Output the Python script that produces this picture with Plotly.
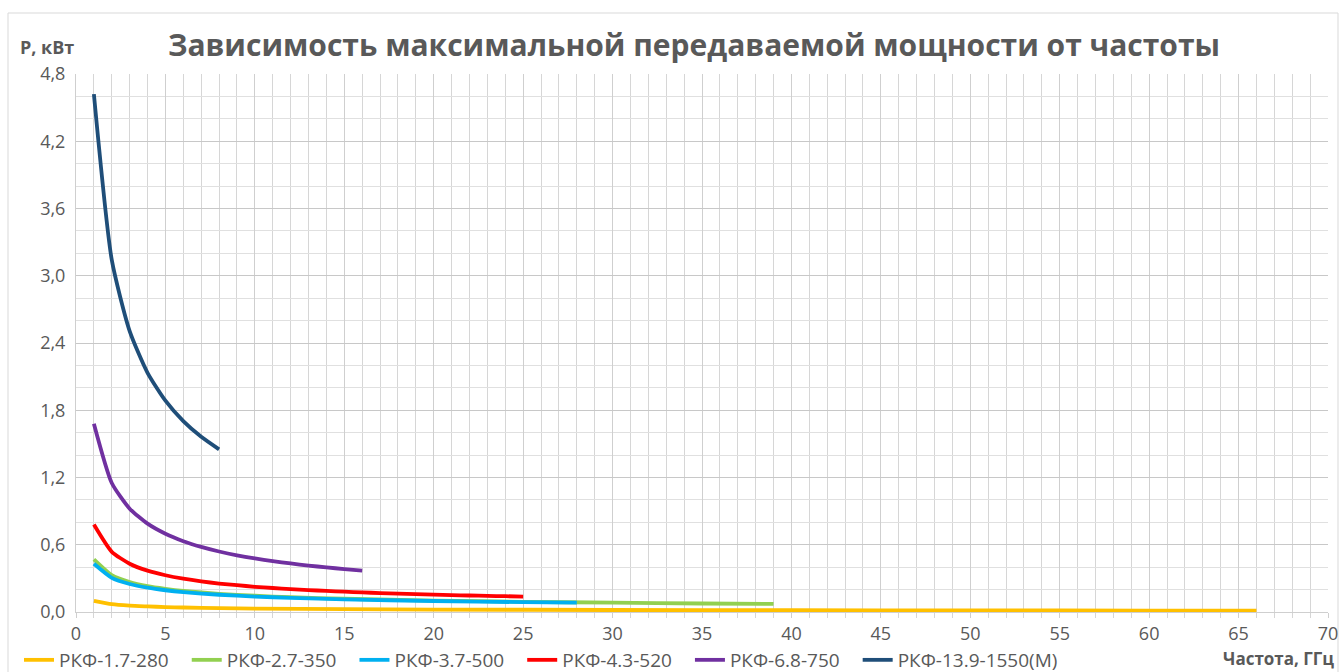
import plotly.graph_objects as go

# ---- data ----
names = ["РКФ-1.7-280", "РКФ-2.7-350", "РКФ-3.7-500", "РКФ-4.3-520", "РКФ-6.8-750", "РКФ-13.9-1550(М)"]
colors = ["#FFC000", "#92D050", "#00B0F0", "#FF0000", "#7030A0", "#1F4E79"]

f_y = [1, 2, 3, 4, 5, 6, 8, 10, 15, 20, 30, 40, 50, 60, 66]
p_y = [0.100, 0.070, 0.057, 0.050, 0.044, 0.040, 0.035, 0.031, 0.025, 0.022, 0.018, 0.0155, 0.014, 0.0126, 0.012]

f_g = [1, 2, 3, 4, 5, 6, 8, 10, 12, 15, 20, 25, 30, 35, 39]
p_g = [0.470, 0.330, 0.268, 0.231, 0.207, 0.188, 0.162, 0.145, 0.132, 0.118, 0.102, 0.091, 0.083, 0.076, 0.072]

f_c = [1, 2, 3, 4, 5, 6, 8, 10, 12, 15, 20, 25, 28]
p_c = [0.430, 0.305, 0.250, 0.217, 0.194, 0.177, 0.154, 0.138, 0.126, 0.113, 0.098, 0.088, 0.083]

f_r = list(range(1, 26))
p_r = [0.780, 0.537, 0.431, 0.369, 0.328, 0.297, 0.273, 0.254, 0.239, 0.225, 0.214, 0.204, 0.196,
       0.188, 0.181, 0.175, 0.169, 0.164, 0.160, 0.155, 0.151, 0.147, 0.144, 0.141, 0.138]

f_p = list(range(1, 17))
p_p = [1.680, 1.151, 0.922, 0.788, 0.698, 0.632, 0.581, 0.540, 0.506, 0.478, 0.454, 0.433, 0.414,
       0.398, 0.383, 0.370]

f_n = [1, 2, 3, 4, 5, 6, 7, 8]
p_n = [4.620, 3.141, 2.506, 2.134, 1.885, 1.703, 1.563, 1.451]

xs = [f_y, f_g, f_c, f_r, f_p, f_n]
ys = [p_y, p_g, p_c, p_r, p_p, p_n]

title = "Зависимость максимальной передаваемой мощности от частоты"
y_title = "P, кВт"
x_title = "Частота, ГГц"

FONT = "Open Sans"
TXT = "#595959"
PAD = "\u00a0\u00a0\u2009"  # spacing between legend entries

fig = go.Figure()
for n, c, x, y in zip(names, colors, xs, ys):
    fig.add_trace(go.Scatter(x=x, y=y, name=n + PAD, mode="lines",
                             line=dict(color=c, width=3.8, shape="spline", smoothing=0.6)))

W, H = 1339, 672
L, R, T, B = 76, 11, 74, 60
pw = W - L - R
ph = H - T - B

fig.update_layout(
    width=W, height=H,
    margin=dict(l=L, r=R, t=T, b=B, autoexpand=False),
    paper_bgcolor="white", plot_bgcolor="white",
    separators=", ",
    font=dict(family=FONT, color=TXT, size=18),
    title=dict(text="<b>" + title + "</b>", x=694 / W, xanchor="center",
               y=1 - 45 / H, yanchor="middle", automargin=False,
               font=dict(family=FONT, size=30, color=TXT)),
    showlegend=True,
    legend=dict(orientation="h", xref="container", yref="container",
                x=19 / W, xanchor="left", y=1 - 660 / H, yanchor="middle",
                font=dict(family=FONT, size=19, color=TXT),
                itemwidth=30, tracegroupgap=0, bgcolor="rgba(0,0,0,0)"),
    xaxis=dict(range=[0, 70], dtick=5, tick0=0, showgrid=True, gridcolor="#cfcfcf", gridwidth=1,
               zeroline=False, showline=True, linecolor="#cfcfcf", automargin=False,
               ticks="outside", ticklen=5, tickcolor="#cfcfcf",
               tickfont=dict(family=FONT, size=18, color=TXT),
               minor=dict(dtick=1, showgrid=True, gridcolor="#d6d6d6", gridwidth=1,
                          ticks="outside", ticklen=5, tickcolor="#d6d6d6")),
    yaxis=dict(range=[0, 4.8], dtick=0.6, tick0=0, tickformat=".1f", automargin=False,
               showgrid=True, gridcolor="#c8c8c8", gridwidth=1,
               zeroline=False, showline=True, linecolor="#cfcfcf",
               ticks="", ticklabelstandoff=6,
               tickfont=dict(family=FONT, size=18, color=TXT),
               minor=dict(dtick=0.2, showgrid=True, gridcolor="#e0e0e0", gridwidth=1)),
)

fig.add_annotation(text="<b>" + y_title + "</b>", xref="paper", yref="paper",
                   x=(18 - L) / pw, y=(H - B - 47) / ph, xanchor="left", yanchor="middle",
                   showarrow=False, font=dict(family=FONT, size=18, color=TXT))
fig.add_annotation(text="<b>" + x_title + "</b>", xref="paper", yref="paper",
                   x=(1336 - L) / pw, y=(H - B - 659) / ph, xanchor="right", yanchor="middle",
                   showarrow=False, font=dict(family=FONT, size=17, color=TXT))

# chart border
fig.add_shape(type="rect", xref="paper", yref="paper",
              x0=(8 - L) / pw, x1=(1338 - L) / pw,
              y0=(H - B - 680) / ph, y1=(H - B - 13) / ph,
              line=dict(color="#d9d9d9", width=1), layer="below")

fig.write_html("out.html", config={"displayModeBar": False},
               post_script="document.body.style.margin='0';document.body.style.overflow='hidden';")
